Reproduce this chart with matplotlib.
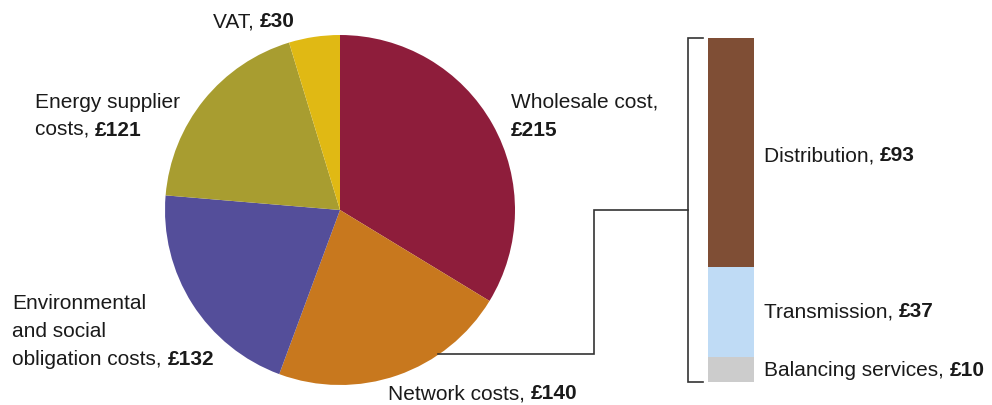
import matplotlib
matplotlib.use("Agg")
import matplotlib.pyplot as plt

# Annual bill breakdown (£)
bill_labels = ["Wholesale cost", "Network costs", "Environmental\nand social\nobligation costs",
               "Energy supplier\ncosts", "VAT"]
bill_values = [215, 140, 132, 121, 30]
bill_colors = ["#8E1D3B", "#C8781E", "#544E9A", "#A89D30", "#E0B914"]

# Network cost split (£)
network_labels = ["Balancing services", "Transmission", "Distribution"]
network_values = [10, 37, 93]
network_colors = ["#CCCCCC", "#BFDBF5", "#7F4E35"]

plt.rcParams["font.family"] = ["Liberation Sans", "DejaVu Sans"]
FS = 15
W, H = 992, 405
fig = plt.figure(figsize=(W / 100, H / 100), dpi=100)

# Full-figure axes in pixel units (y measured upward)
ax = fig.add_axes([0, 0, 1, 1])

cx, cy, r = 340, H - 210, 175
ax.pie(bill_values, colors=bill_colors, startangle=90, counterclock=False,
       radius=r, center=(cx, cy), frame=True,
       wedgeprops=dict(linewidth=0))
ax.set_xlim(0, W)
ax.set_ylim(0, H)
ax.set_aspect("auto")
ax.axis("off")

renderer = fig.canvas.get_renderer()


def put(x, y_px, plain, bold_txt=None):
    """Text line at pixel position; optional bold value appended."""
    y = H - y_px
    t = ax.text(x, y, plain, fontsize=FS, color="#1a1a1a", va="baseline", ha="left")
    if bold_txt:
        bb = t.get_window_extent(renderer=renderer)
        w = bb.width if plain else 0
        ax.text(x + w, y, bold_txt, fontsize=FS, color="#1a1a1a",
                fontweight="bold", va="baseline", ha="left")


put(213, 27, "VAT, ", f"£{bill_values[4]}")
put(35, 108, "Energy supplier")
put(35, 136, "costs, ", f"£{bill_values[3]}")
put(511, 108, "Wholesale cost,")
put(511, 136, "", f"£{bill_values[0]}")
put(12, 309, "Environmental")
put(12, 337, "and social")
put(12, 365, "obligation costs, ", f"£{bill_values[2]}")
put(388, 399, "Network costs, ", f"£{bill_values[1]}")

# Connector from the network wedge to the bracket
lc = "#333333"
ax.plot([438, 594, 594, 688], [H - 354, H - 354, H - 210, H - 210], color=lc, lw=1.2,
        solid_joinstyle="miter")
# Bracket
ax.plot([703, 688, 688, 703], [H - 38, H - 38, H - 382, H - 382], color=lc, lw=1.2,
        solid_joinstyle="miter")

# Stacked network bar
bax = fig.add_axes([708 / W, 1 - 382 / H, 46 / W, 344 / H])
bottom = 0
for v, c in zip(network_values, network_colors):
    bax.bar(0, v, bottom=bottom, width=1, color=c, linewidth=0)
    bottom += v
bax.set_xlim(-0.5, 0.5)
bax.set_ylim(0, sum(network_values))
bax.axis("off")

put(764, 161, "Distribution, ", f"£{network_values[2]}")
put(764, 317, "Transmission, ", f"£{network_values[1]}")
put(764, 376, "Balancing services, ", f"£{network_values[0]}")

fig.savefig("out.png", dpi=100)
